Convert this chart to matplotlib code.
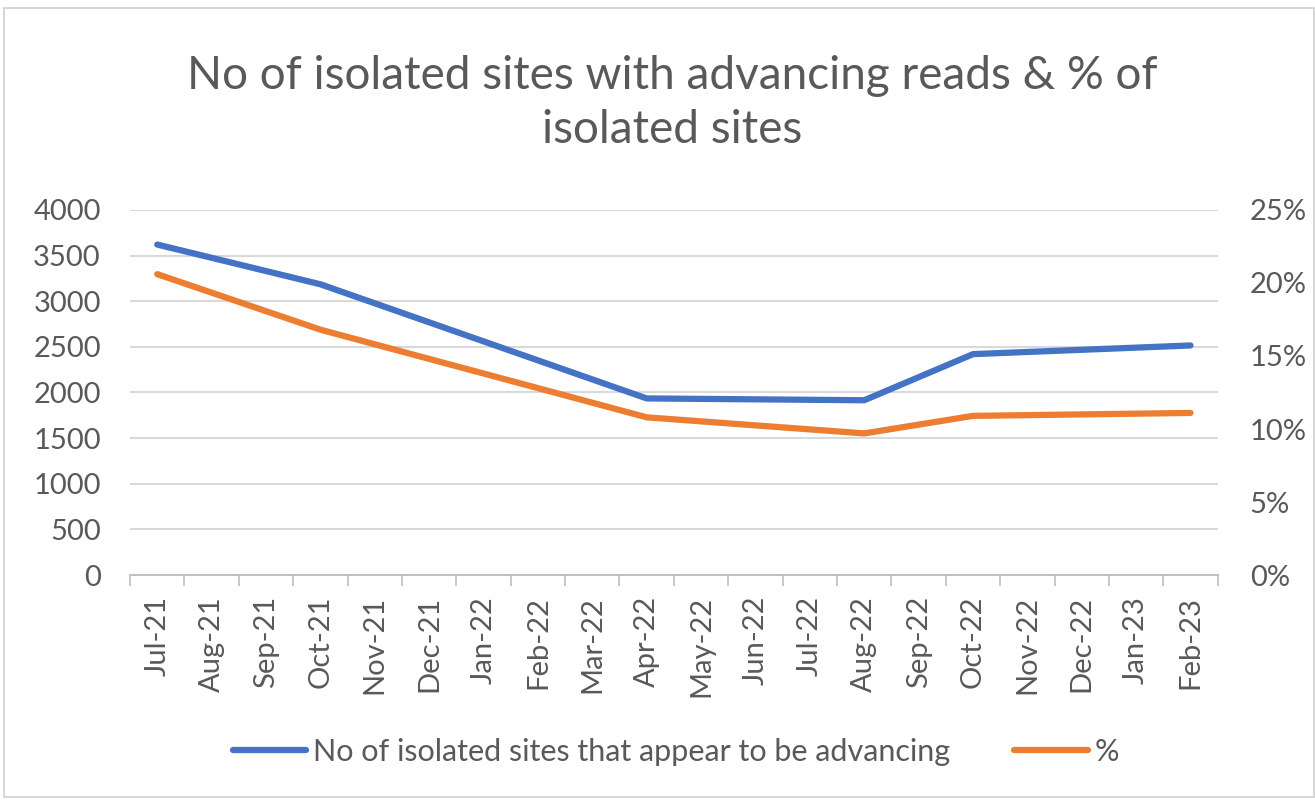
import matplotlib.pyplot as plt
import numpy as np
from matplotlib.patches import Rectangle
from matplotlib.ticker import MultipleLocator, FuncFormatter

plt.rcParams['font.family'] = ['Lato', 'DejaVu Sans']

# Данные
months = ["Jul-21", "Aug-21", "Sep-21", "Oct-21", "Nov-21", "Dec-21", "Jan-22",
          "Feb-22", "Mar-22", "Apr-22", "May-22", "Jun-22", "Jul-22", "Aug-22",
          "Sep-22", "Oct-22", "Nov-22", "Dec-22", "Jan-23", "Feb-23"]
sites = [3620, None, None, 3185, None, None, None, None, None, 1935,
         None, None, None, 1915, None, 2420, None, None, None, 2515]
pct = [0.206, None, None, 0.168, None, None, None, None, None, 0.108,
       None, None, None, 0.097, None, 0.109, None, None, None, 0.111]

text_col = "#595959"
grid_col = "#D9D9D9"

fig = plt.figure(figsize=(13.15, 8.01), dpi=100)
fig.patches.append(Rectangle((0.003, 0.005), 0.996, 0.985, transform=fig.transFigure,
                             fill=False, edgecolor="#D0D0D0", linewidth=1.2))

ax = fig.add_axes([0.0989, 0.282, 0.8271, 0.456])
ax2 = ax.twinx()

x = np.arange(len(months))
s = np.array([np.nan if v is None else v for v in sites], dtype=float)
p = np.array([np.nan if v is None else v for v in pct], dtype=float)
ms = ~np.isnan(s)
mp = ~np.isnan(p)

ln1, = ax.plot(x[ms], s[ms], color="#4472C4", linewidth=4.5, solid_capstyle="round",
               label="No of isolated sites that appear to be advancing", zorder=3)
ln2, = ax2.plot(x[mp], p[mp], color="#ED7D31", linewidth=4.5, solid_capstyle="round",
                label="%", zorder=3)

ax.set_xlim(-0.5, len(months) - 0.5)
ax.set_ylim(0, 4000)
ax2.set_ylim(0, 0.25)
ax.yaxis.set_major_locator(MultipleLocator(500))
ax2.yaxis.set_major_locator(MultipleLocator(0.05))
ax2.yaxis.set_major_formatter(FuncFormatter(lambda v, _: f"{v*100:.0f}%"))

ax.set_xticks(x)
ax.set_xticklabels(months, rotation=90)
ax.set_xticks(np.arange(-0.5, len(months)), minor=True)
ax.tick_params(axis="x", which="major", length=0, pad=15, labelsize=21, labelcolor=text_col)
ax.tick_params(axis="x", which="minor", length=8, width=1.2, color="#BFBFBF")
ax.tick_params(axis="y", length=0, pad=21, labelsize=21, labelcolor=text_col)
ax2.tick_params(axis="y", length=0, pad=23, labelsize=21, labelcolor=text_col)

ax.grid(axis="y", color=grid_col, linewidth=1.5)
ax.set_axisbelow(True)
for a in (ax, ax2):
    for sp in ("top", "left", "right"):
        a.spines[sp].set_visible(False)
    a.spines["bottom"].set_color("#BFBFBF")
    a.spines["bottom"].set_linewidth(1.2)

fig.text(0.511, 0.871, "No of isolated sites with advancing reads & % of\nisolated sites",
         ha="center", va="center", fontsize=33, color=text_col, linespacing=1.35)

fig.legend(handles=[ln1, ln2], loc="center", bbox_to_anchor=(0.514, 0.061), ncol=2,
           frameon=False, fontsize=22, labelcolor=text_col, handlelength=2.4,
           handletextpad=0.23, columnspacing=2.1)

fig.savefig("out.png", dpi=100)
